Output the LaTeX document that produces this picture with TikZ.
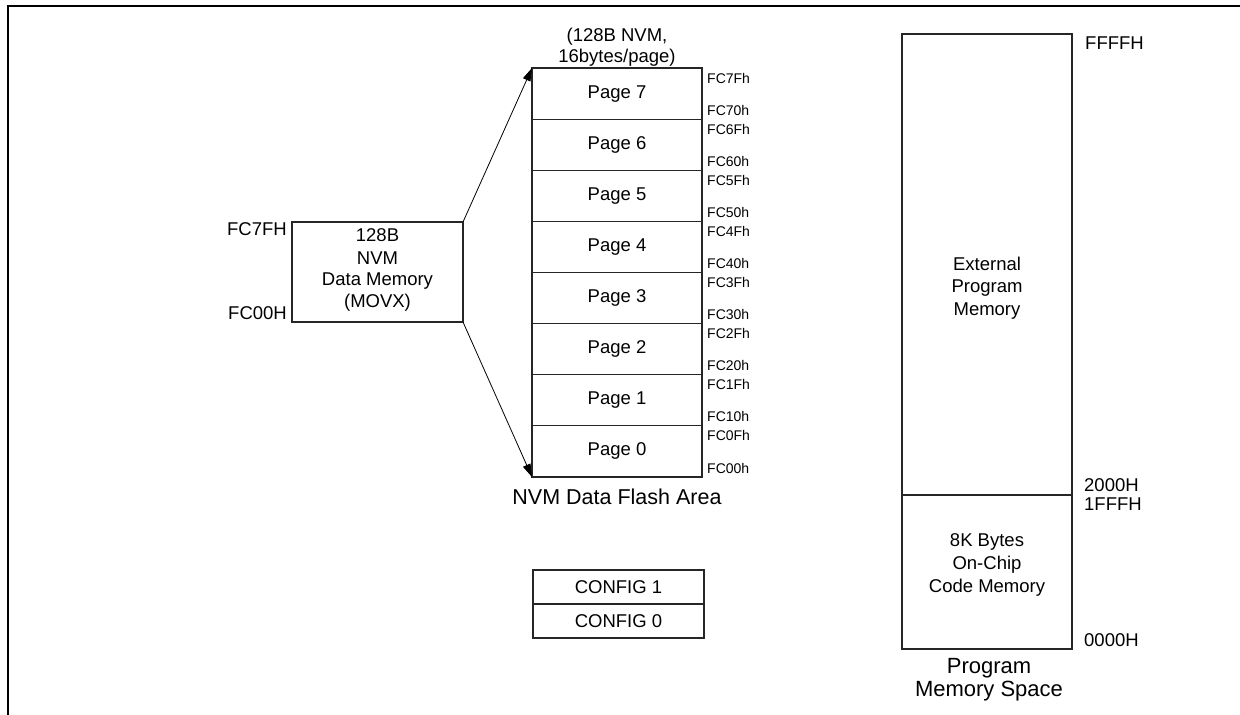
\documentclass[tikz,border=0pt]{standalone}
\usepackage{fontspec}
\setmainfont{Liberation Sans}
\usetikzlibrary{arrows.meta,calc}
\begin{document}
\begin{tikzpicture}[x=1pt,y=-1pt,
  blk/.style={draw=black!85, line width=1.1pt, inner sep=0pt, outer sep=0pt, anchor=north west, align=center, font=\fontsize{18.5}{23}\selectfont},
  pagebox/.style={blk, minimum width=170pt, minimum height=51.125pt},
  addr/.style={inner sep=0pt, anchor=west, font=\fontsize{14}{15}\selectfont},
  lbl/.style={inner sep=0pt, align=center, font=\fontsize{18.5}{23}\selectfont},
  captxt/.style={inner sep=0pt, align=center, font=\fontsize{21.5}{23}\selectfont},
  arr/.style={line width=0.8pt, -{Triangle[length=13pt,width=8pt]}}]
\useasboundingbox (0,0) rectangle (1240,715);
% frame
\draw[line width=2.2pt] (8,716) -- (8,6) -- (1241,6);
% left memory block
\node[blk, minimum width=171pt, minimum height=100pt] (mem) at (292,222) {};
\node[lbl] (m1) at (377.5,235) {128B};
\node[lbl] (m2) at (377.5,258) {NVM};
\node[lbl] (m3) at (377.5,281) {Data Memory};
\node[lbl] (m4) at (377.5,303) {(MOVX)};
\node[lbl, anchor=east] (fc7fh) at (287,229) {FC7FH};
\node[lbl, anchor=east] (fc00h) at (287,313) {FC00H};
% NVM pages
\node[lbl, font=\fontsize{18.5}{20.5}\selectfont] (title) at (617,47) {(128B NVM,\\16bytes/page)};
\foreach \i/\hi/\lo in {7/FC7Fh/FC70h,6/FC6Fh/FC60h,5/FC5Fh/FC50h,4/FC4Fh/FC40h,3/FC3Fh/FC30h,2/FC2Fh/FC20h,1/FC1Fh/FC10h,0/FC0Fh/FC00h}{
  \node[pagebox] (p\i) at (532,{68+(7-\i)*51.125}) {Page \i};
  \node[addr] (h\i) at ($(p\i.north east)+(5,10)$) {\hi};
  \node[addr] (l\i) at ($(p\i.south east)+(5,-9)$) {\lo};
}
\node[captxt] (flash) at (617,497) {NVM Data Flash Area};
\draw[arr] (mem.north east) -- (p7.north west);
\draw[arr] (mem.south east) -- (p0.south west);
% config
\node[blk, minimum width=171pt, minimum height=34pt] (cfg1) at (533,570) {CONFIG 1};
\node[blk, minimum width=171pt, minimum height=34pt] (cfg0) at (533,604) {CONFIG 0};
% program memory
\node[blk, minimum width=170pt, minimum height=461pt] (ext) at (902,34) {};
\node[blk, minimum width=170pt, minimum height=154pt] (chip) at (902,495) {};
\node[lbl, font=\fontsize{18.5}{22.5}\selectfont] (extt) at (987,288) {External\\Program\\Memory};
\node[lbl, font=\fontsize{18.5}{23}\selectfont] (chipt) at (987,565) {8K Bytes\\On-Chip\\Code Memory};
\node[lbl, anchor=west] (ffff) at (1085,43) {FFFFH};
\node[lbl, anchor=west] (a2000) at (1084,485) {2000H};
\node[lbl, anchor=west] (a1fff) at (1084,504) {1FFFH};
\node[lbl, anchor=west] (a0000) at (1084,640) {0000H};
\node[captxt, font=\fontsize{22}{23}\selectfont] (pms) at (989,680) {Program\\Memory Space};
\end{tikzpicture}
\end{document}
